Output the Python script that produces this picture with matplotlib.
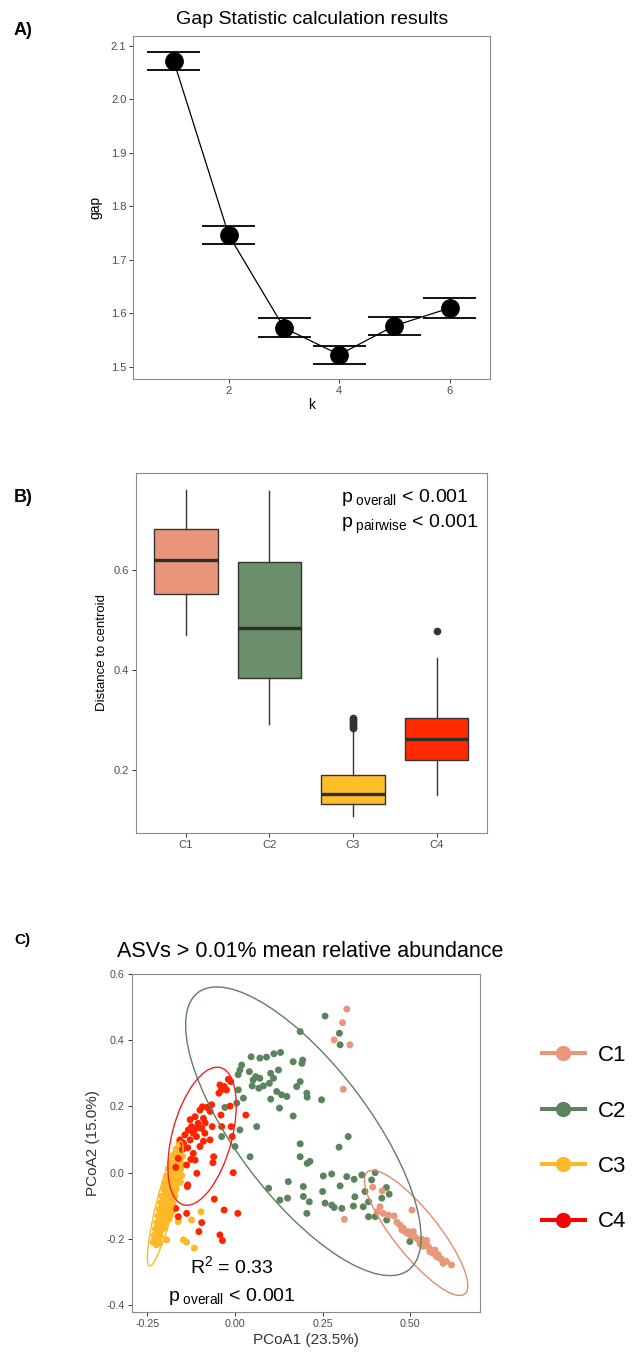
import matplotlib
matplotlib.use('Agg')
import matplotlib.pyplot as plt
import numpy as np
from matplotlib.patches import Ellipse
from matplotlib.lines import Line2D

plt.rcParams['font.family'] = ['Liberation Sans', 'DejaVu Sans']
plt.rcParams['mathtext.fontset'] = 'custom'
plt.rcParams['mathtext.rm'] = 'Liberation Sans'
plt.rcParams['mathtext.it'] = 'Liberation Sans:italic'
plt.rcParams['axes.unicode_minus'] = False

# ---------------- Panel A data ----------------
gap_k = [1, 2, 3, 4, 5, 6]
gap_val = [2.072, 1.746, 1.573, 1.523, 1.577, 1.610]
gap_lo = [2.055, 1.730, 1.556, 1.505, 1.560, 1.591]
gap_hi = [2.089, 1.764, 1.592, 1.540, 1.594, 1.629]

# ---------------- Panel B data ----------------
groups = ['C1', 'C2', 'C3', 'C4']
box_whislo = [0.470, 0.292, 0.108, 0.151]
box_q1 = [0.553, 0.385, 0.133, 0.221]
box_med = [0.621, 0.485, 0.153, 0.262]
box_q3 = [0.683, 0.616, 0.190, 0.305]
box_whishi = [0.761, 0.759, 0.281, 0.425]
c1_outliers = []
c2_outliers = []
c3_outliers = [0.284, 0.287, 0.290, 0.293, 0.296, 0.299, 0.302, 0.305]
c4_outliers = [0.479]
box_fill = ['#E9957A', '#6A8F6A', '#FDBE2A', '#FF2A00']

# ---------------- Panel C data ----------------
pt_colors = ['#E9967A', '#5B835E', '#FDB827', '#FF2400']
ell_colors = ['#E08C72', '#5E7F60', '#FDB827', '#F52020']

c1_x = [0.319, 0.307, 0.283, 0.328, 0.309, 0.393, 0.420, 0.414, 0.406, 0.423,
        0.438, 0.454, 0.505, 0.312, 0.471, 0.476, 0.488, 0.499, 0.514, 0.523,
        0.533, 0.542, 0.552, 0.561, 0.566, 0.576, 0.585, 0.594, 0.618, 0.509,
        0.556, 0.571, 0.480, 0.547, 0.528, 0.590, 0.603, 0.580, 0.537, 0.495,
        0.462]
c1_y = [0.494, 0.453, 0.401, 0.386, 0.252, -0.044, -0.055, -0.103, -0.118, -0.123,
        -0.128, -0.131, -0.113, -0.141, -0.158, -0.173, -0.181, -0.188, -0.195, -0.203,
        -0.201, -0.213, -0.224, -0.234, -0.244, -0.254, -0.259, -0.274, -0.279, -0.178,
        -0.239, -0.234, -0.168, -0.205, -0.215, -0.262, -0.268, -0.248, -0.222, -0.178,
        -0.150]

c2_x = [0.257, 0.298, 0.300, 0.186, 0.193, 0.191, 0.186, 0.205, 0.206, 0.247,
        0.323, 0.297, 0.186, 0.046, 0.071, 0.090, 0.111, 0.130, 0.166, 0.019,
        0.014, 0.009, 0.041, 0.059, 0.052, 0.071, 0.081, 0.068, 0.049, 0.102,
        0.110, 0.098, 0.124, 0.176, 0.119, 0.133, 0.148, 0.102, 0.0095, 0.024,
        0.005, -0.029, 0.166, 0.127, 0.062, 0.014, -0.038, 0.000, 0.043, 0.186,
        0.152, 0.128, 0.150, 0.195, 0.206, 0.214, 0.195, 0.212, 0.205, 0.252,
        0.276, 0.250, 0.300, 0.319, 0.340, 0.362, 0.400, 0.257, 0.276, 0.283,
        0.305, 0.338, 0.342, 0.366, 0.371, 0.390, 0.432, 0.440, 0.419, 0.381,
        0.381, 0.400, 0.433, 0.499, 0.096]
c2_y = [0.473, 0.421, 0.386, 0.426, 0.340, 0.330, 0.275, 0.240, 0.228, 0.220,
        0.109, 0.077, 0.087, 0.350, 0.346, 0.349, 0.359, 0.363, 0.335, 0.325,
        0.310, 0.296, 0.305, 0.290, 0.280, 0.285, 0.262, 0.255, 0.262, 0.300,
        0.285, 0.270, 0.310, 0.260, 0.245, 0.235, 0.230, 0.222, 0.250, 0.225,
        0.210, 0.197, 0.171, 0.195, 0.139, 0.129, 0.109, 0.079, 0.048, 0.048,
        -0.027, -0.083, -0.077, -0.072, 0.028, 0.034, -0.042, -0.088, -0.123, -0.010,
        -0.004, -0.057, -0.040, -0.012, -0.020, -0.007, 0.000, -0.092, -0.098, -0.105,
        -0.108, -0.101, -0.073, -0.103, -0.057, -0.022, -0.045, -0.065, -0.077, -0.088,
        -0.133, -0.133, -0.143, -0.208, -0.047]

c3_x = [-0.160, -0.153, -0.168, -0.161, -0.151, -0.176, -0.167, -0.159, -0.150,
        -0.183, -0.174, -0.166, -0.157, -0.149, -0.190, -0.182, -0.172, -0.163, -0.155,
        -0.196, -0.186, -0.178, -0.170, -0.161, -0.152, -0.201, -0.191, -0.183, -0.173,
        -0.165, -0.156, -0.204, -0.196, -0.186, -0.178, -0.168, -0.209, -0.199, -0.190,
        -0.182, -0.171, -0.212, -0.203, -0.195, -0.185, -0.177, -0.217, -0.206, -0.198,
        -0.189, -0.180, -0.220, -0.211, -0.203, -0.193, -0.185, -0.223, -0.215, -0.205,
        -0.197, -0.227, -0.217, -0.209, -0.200, -0.231, -0.222, -0.213, -0.234, -0.225,
        -0.216, -0.097, -0.124, -0.162, -0.147, -0.138, -0.116, -0.219, -0.233, -0.224,
        -0.195, -0.172, -0.188, -0.207, -0.179, -0.164, -0.193, -0.201, -0.214, -0.176,
        -0.187, -0.158]
c3_y = [0.092, 0.085, 0.071, 0.066, 0.073, 0.052, 0.047, 0.055, 0.049,
        0.031, 0.027, 0.034, 0.029, 0.024, 0.012, 0.008, 0.013, 0.006, 0.011,
        -0.011, -0.008, -0.013, -0.006, -0.012, -0.009, -0.031, -0.028, -0.033, -0.026,
        -0.032, -0.029, -0.050, -0.053, -0.047, -0.052, -0.049, -0.071, -0.068, -0.073,
        -0.066, -0.070, -0.091, -0.088, -0.093, -0.087, -0.090, -0.111, -0.108, -0.113,
        -0.107, -0.110, -0.131, -0.128, -0.133, -0.127, -0.130, -0.151, -0.148, -0.153,
        -0.149, -0.170, -0.168, -0.172, -0.167, -0.190, -0.188, -0.192, -0.210, -0.207,
        -0.212, -0.118, -0.143, -0.148, -0.203, -0.210, -0.228, -0.205, -0.208, -0.218,
        -0.203, -0.058, -0.140, -0.160, -0.118, -0.020, -0.040, -0.100, -0.180, -0.081,
        -0.120, 0.040]

c4_x = [-0.019, -0.012, -0.031, -0.039, -0.024, -0.043, -0.046, -0.093, -0.100, -0.080,
        -0.067, -0.071, -0.040, -0.014, 0.031, -0.114, -0.090, -0.105, -0.124, -0.110,
        -0.133, -0.095, -0.119, -0.143, -0.086, -0.065, -0.038, -0.011, -0.128, -0.147,
        -0.110, -0.100, -0.071, -0.157, -0.008, -0.119, -0.061, -0.162, -0.138, -0.169,
        -0.114, -0.063, -0.109, -0.135, -0.005, -0.059, -0.169, -0.138, -0.162, -0.031,
        0.008, -0.095, -0.103, -0.043, -0.036, -0.136, -0.128, -0.085, -0.150, -0.135,
        -0.090, -0.126]
c4_y = [0.282, 0.275, 0.260, 0.250, 0.250, 0.265, 0.240, 0.199, 0.189, 0.197,
        0.205, 0.185, 0.174, 0.201, 0.174, 0.169, 0.164, 0.149, 0.139, 0.134,
        0.129, 0.134, 0.119, 0.114, 0.119, 0.139, 0.139, 0.139, 0.099, 0.089,
        0.109, 0.079, 0.099, 0.099, 0.109, 0.058, 0.048, 0.043, 0.023, 0.016,
        0.038, 0.030, -0.002, -0.037, 0.000, -0.080, -0.108, -0.123, -0.133, -0.113,
        -0.123, -0.151, -0.178, -0.188, -0.205, -0.042, 0.160, 0.150, 0.070, 0.075,
        0.095, 0.040]

# ellipse parameters: centre, x half-extent, y half-extent, covariance term
ell_cx = [0.517, 0.195, -0.199, -0.094]
ell_cy = [-0.182, 0.125, -0.0935, 0.110]
ell_hx = [0.1475, 0.336, 0.051, 0.0975]
ell_hy = [0.189, 0.436, 0.1885, 0.2085]
ell_cxy = [-0.0235, -0.1078, 0.0083, 0.009]

# ---------------- Figure ----------------
W, H = 639, 1353
fig = plt.figure(figsize=(W / 100, H / 100), dpi=100)

def ax_rect(l, r, t, b):
    return [l / W, 1 - b / H, (r - l) / W, (b - t) / H]

tick_col = '#4D4D4D'
border_col = '#8A8A8A'

def style(ax, labsize=8):
    for s in ax.spines.values():
        s.set_color(border_col)
        s.set_linewidth(0.8)
    ax.tick_params(length=3, width=0.7, color='#333333', labelcolor=tick_col,
                   labelsize=labsize, pad=2)

# Panel A
axA = fig.add_axes(ax_rect(133.3, 490, 36, 379.3))
style(axA)
axA.vlines(gap_k, gap_lo, gap_hi, color='black', lw=1.2, zorder=2)
kk = np.array(gap_k)
axA.hlines(gap_lo, kk - 0.48, kk + 0.48, color='#111111', lw=1.4, zorder=2)
axA.hlines(gap_hi, kk - 0.48, kk + 0.48, color='#111111', lw=1.4, zorder=2)
axA.plot(gap_k, gap_val, color='black', lw=0.9, zorder=3)
axA.plot(gap_k, gap_val, 'o', color='black', markersize=12.5, zorder=4)
axA.set_xlim(0.27, 6.73)
axA.set_ylim(1.477, 2.118)
axA.set_xticks([2, 4, 6])
axA.set_yticks([1.5, 1.6, 1.7, 1.8, 1.9, 2.0, 2.1])
axA.set_yticklabels(['1.5', '1.6', '1.7', '1.8', '1.9', '2.0', '2.1'])
axA.set_xlabel('k', fontsize=10, labelpad=1)
axA.set_ylabel('gap', fontsize=10, labelpad=6)
axA.set_title('Gap Statistic calculation results', fontsize=14, pad=9)

# Panel B
axB = fig.add_axes(ax_rect(135.7, 486.7, 472.7, 832.7))
style(axB)
fl = [c1_outliers, c2_outliers, c3_outliers, c4_outliers]
stats = []
for i, g in enumerate(groups):
    stats.append(dict(label=g, med=box_med[i], q1=box_q1[i], q3=box_q3[i],
                      whislo=box_whislo[i], whishi=box_whishi[i], fliers=fl[i]))
bp = axB.bxp(stats, positions=[1, 2, 3, 4], widths=0.76, patch_artist=True,
             showcaps=False,
             boxprops=dict(edgecolor='#333333', linewidth=1.0),
             medianprops=dict(color='#2E2E2E', linewidth=2.4),
             whiskerprops=dict(color='#333333', linewidth=1.0),
             flierprops=dict(marker='o', markerfacecolor='#333333',
                             markeredgecolor='none', markersize=5.5))
for patch, c in zip(bp['boxes'], box_fill):
    patch.set_facecolor(c)
axB.set_xlim(0.4, 4.6)
axB.set_ylim(0.0746, 0.795)
axB.set_yticks([0.2, 0.4, 0.6])
axB.set_yticklabels(['0.2', '0.4', '0.6'])
axB.set_ylabel('Distance to centroid', fontsize=9.5, labelpad=4)
axB.text(2.852, 0.7366, r'p$_{\ \mathrm{overall}}$ < 0.001', fontsize=14,
         ha='left', va='baseline')
axB.text(2.852, 0.684, r'p$_{\ \mathrm{pairwise}}$ < 0.001', fontsize=14,
         ha='left', va='baseline')

# Panel C
axC = fig.add_axes(ax_rect(131.7, 480, 974, 1312.3))
style(axC, labsize=7.7)
xs = [c1_x, c2_x, c3_x, c4_x]
ys = [c1_y, c2_y, c3_y, c4_y]
order = [1, 0, 2, 3]
for i in order:
    axC.scatter(xs[i], ys[i], s=25, color=pt_colors[i], edgecolors='none', zorder=2)
for i in range(4):
    cov = np.array([[ell_hx[i] ** 2, ell_cxy[i]], [ell_cxy[i], ell_hy[i] ** 2]])
    vals, vecs = np.linalg.eigh(cov)
    ang = np.degrees(np.arctan2(vecs[1, 1], vecs[0, 1]))
    e = Ellipse((ell_cx[i], ell_cy[i]), 2 * np.sqrt(vals[1]), 2 * np.sqrt(vals[0]),
                angle=ang, fill=False, edgecolor=ell_colors[i], lw=1.0, zorder=3)
    axC.add_patch(e)
axC.set_xlim(-0.2948, 0.6992)
axC.set_ylim(-0.4218, 0.600)
axC.set_xticks([-0.25, 0.0, 0.25, 0.5])
axC.set_xticklabels(['-0.25', '0.00', '0.25', '0.50'])
axC.set_yticks([-0.4, -0.2, 0.0, 0.2, 0.4, 0.6])
axC.set_yticklabels(['-0.4', '-0.2', '0.0', '0.2', '0.4', '0.6'])
axC.set_xlabel('PCoA1 (23.5%)', fontsize=11, color='#333333', labelpad=3)
axC.set_ylabel('PCoA2 (15.0%)', fontsize=11, color='#333333', labelpad=5)
axC.set_title('ASVs > 0.01% mean relative abundance', fontsize=15.5, pad=12, x=0.512)
axC.text(-0.009, -0.303, r'R$^{2}$ = 0.33', fontsize=14, ha='center', va='baseline')
axC.text(-0.010, -0.387, r'p$_{\ \mathrm{overall}}$ < 0.001', fontsize=14,
         ha='center', va='baseline')

handles = [Line2D([0], [0], color=pt_colors[i] if i != 3 else '#FF0000', lw=2.9,
                  marker='o', markersize=10) for i in range(4)]
fig.legend(handles, groups, loc='center left',
           bbox_to_anchor=(541.5 / W, 1 - 1138.8 / H), frameon=False, fontsize=16,
           handlelength=1.96, handletextpad=0.57, labelspacing=1.55,
           borderpad=0, borderaxespad=0)

# panel letters
fig.text(14 / W, 1 - 35 / H, 'A)', fontsize=13, fontweight='bold', va='baseline')
fig.text(14 / W, 1 - 502 / H, 'B)', fontsize=13, fontweight='bold', va='baseline')
fig.text(14 / W, 1 - 944 / H, 'C)', fontsize=11, fontweight='bold', va='baseline')

fig.savefig('out.png', dpi=100, facecolor='white')
